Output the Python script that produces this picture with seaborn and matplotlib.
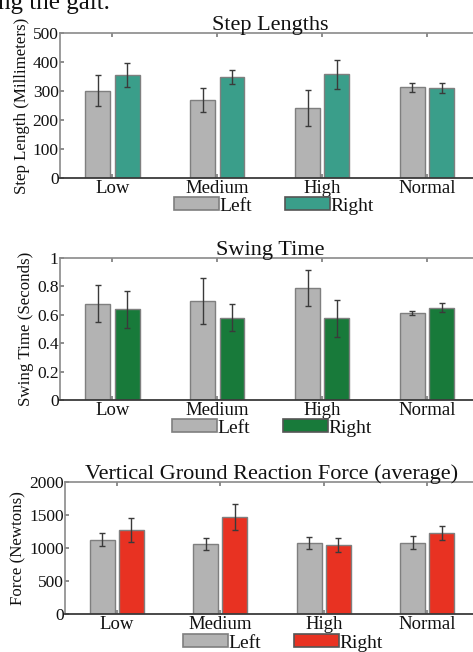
import numpy as np
import pandas as pd
import matplotlib
matplotlib.use("Agg")
import matplotlib.pyplot as plt
from matplotlib.patches import Rectangle
import seaborn as sns

categories = ["Low", "Medium", "High", "Normal"]
sides = ["Left", "Right"]

step_left = [301, 269, 242, 313]
step_left_err = [54, 40, 61, 16]
step_right = [356, 349, 358, 309]
step_right_err = [41, 24, 50, 17]

swing_left = [0.675, 0.694, 0.79, 0.61]
swing_left_err = [0.13, 0.16, 0.126, 0.016]
swing_right = [0.636, 0.579, 0.575, 0.65]
swing_right_err = [0.13, 0.095, 0.13, 0.03]

force_left = [1122, 1061, 1071, 1081]
force_left_err = [100, 95, 91, 104]
force_right = [1274, 1467, 1046, 1223]
force_right_err = [185, 203, 106, 110]

titles = ["Step Lengths", "Swing Time", "Vertical Ground Reaction Force (average)"]
ylabels = ["Step Length (Millimeters)", "Swing Time (Seconds)", "Force (Newtons)"]
yticks = [[0, 100, 200, 300, 400, 500], [0, 0.2, 0.4, 0.6, 0.8, 1.0], [0, 500, 1000, 1500, 2000]]
yticklabels = [["0", "100", "200", "300", "400", "500"],
               ["0", "0.2", "0.4", "0.6", "0.8", "1"],
               ["0", "500", "1000", "1500", "2000"]]

gray = "#b3b3b3"
right_colors = ["#3a9e8a", "#187a3a", "#e83222"]

sns.set_theme(style="white")
plt.rcParams["font.family"] = ["Liberation Serif", "DejaVu Serif"]
plt.rcParams["text.color"] = "#111111"
plt.rcParams["axes.labelcolor"] = "#111111"
plt.rcParams["xtick.color"] = "#111111"
plt.rcParams["ytick.color"] = "#111111"

fig = plt.figure(figsize=(4.73, 6.52), dpi=100)

W, H = 473.0, 652.0
boxes = [(60, 479.5, 33, 178), (60, 479.5, 257.7, 400), (65, 479, 482, 613.7)]
legend_pos = [(274, 206), (272, 428), (283, 643)]

datasets = [
    (step_left, step_left_err, step_right, step_right_err),
    (swing_left, swing_left_err, swing_right, swing_right_err),
    (force_left, force_left_err, force_right, force_right_err),
]

for i, (l, le, r, re) in enumerate(datasets):
    x0, x1, yt, yb = boxes[i]
    ax = fig.add_axes([x0 / W, 1 - yb / H, (x1 - x0) / W, (yb - yt) / H])
    df = pd.DataFrame({
        "cat": categories * 2,
        "side": ["Left"] * 4 + ["Right"] * 4,
        "val": list(l) + list(r),
        "err": list(le) + list(re),
    })
    pal = {"Left": gray, "Right": right_colors[i]}
    sns.barplot(data=df, x="cat", y="val", hue="side", order=categories,
                hue_order=sides, palette=pal, width=0.56, gap=0.15,
                errorbar=None, edgecolor="#7f7f7f", linewidth=1.0,
                saturation=1, legend=False, ax=ax)
    bars = [p for p in ax.patches if isinstance(p, Rectangle) and p.get_height() > 0]
    bars = sorted(bars, key=lambda p: p.get_x())
    vals_map = {}
    for j, cat in enumerate(categories):
        vals_map[(j, 0)] = (l[j], le[j])
        vals_map[(j, 1)] = (r[j], re[j])
    for k, p in enumerate(bars):
        j, s = k // 2, k % 2
        v, e = vals_map[(j, s)]
        ax.errorbar(p.get_x() + p.get_width() / 2, v, yerr=e, fmt="none",
                    ecolor="#3a3a3a", elinewidth=1.0, capsize=2.5, capthick=1.0)
    ax.set_xlim(-0.5, 3.5)
    ax.set_ylim(yticks[i][0], yticks[i][-1])
    ax.set_yticks(yticks[i])
    ax.set_yticklabels(yticklabels[i], fontsize=12.5)
    ax.set_xticks(range(4))
    ax.set_xticklabels(categories, fontsize=13.5)
    ax.set_xlabel("")
    ax.set_ylabel(ylabels[i], fontsize=12.2, labelpad=2)
    ax.set_title(titles[i], fontsize=16, pad=2)
    ax.tick_params(axis="y", direction="in", length=3, pad=1, left=True, color="#808080")
    ax.tick_params(axis="x", direction="in", length=3, pad=1.5, top=True, bottom=True, color="#808080")
    for name, sp in ax.spines.items():
        sp.set_color("#8a8a8a")
        sp.set_linewidth(1.2)
    ax.spines["bottom"].set_color("#3a3a3a")
    ax.spines["bottom"].set_linewidth(1.3)
    handles = [Rectangle((0, 0), 1, 1, facecolor=gray, edgecolor="#7f7f7f", linewidth=1.2),
               Rectangle((0, 0), 1, 1, facecolor=right_colors[i], edgecolor="#555555", linewidth=1.2)]
    lx, ly = legend_pos[i]
    fig.legend(handles, sides, loc="center", bbox_to_anchor=(lx / W, 1 - ly / H),
               ncol=2, frameon=False, fontsize=14, handlelength=2.3,
               handleheight=0.6, handletextpad=0.05, columnspacing=1.7,
               borderpad=0, borderaxespad=0)

fig.text(-0.005, 1 - 9.5 / H, "ng the gait.", fontsize=18, va="baseline", ha="left")

fig.savefig("out.png", dpi=100)
